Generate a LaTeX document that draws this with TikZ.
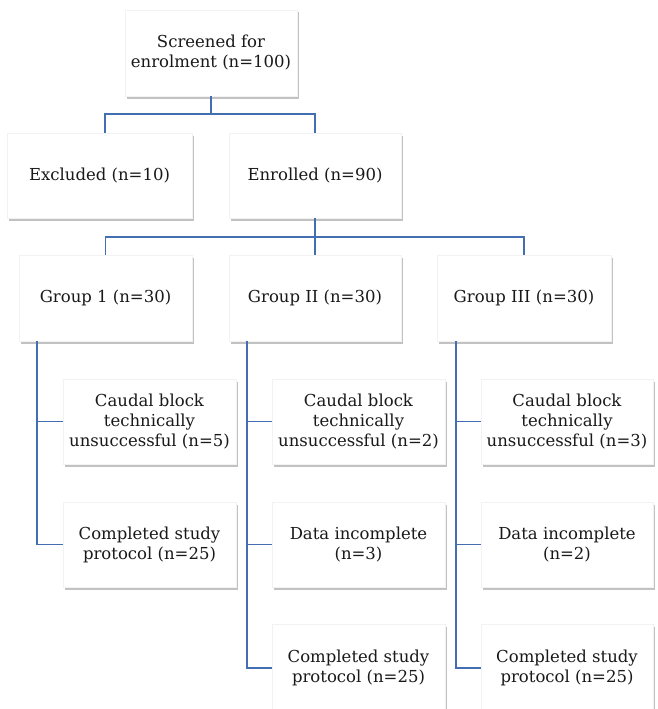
\documentclass[tikz,border=0pt]{standalone}
\usepackage{fontspec}
\setmainfont{DejaVu Serif}
\usetikzlibrary{shadows}
\definecolor{lineblue}{RGB}{68,110,178}
\definecolor{txt}{RGB}{25,25,25}
\tikzset{
  box/.style={rectangle, fill=white, draw=black!5, line width=0.3pt, align=center,
    text=txt, font=\fontsize{16.5}{20}\selectfont, inner sep=2pt,
    drop shadow={shadow xshift=1.5pt, shadow yshift=-2.5pt, opacity=0.4, fill=black!60}},
  conn/.style={draw=lineblue, line width=1.7pt}
}
\begin{document}
\begin{tikzpicture}[x=1pt,y=-1pt]
\useasboundingbox (0,0) rectangle (657,709);
% boxes
\node[box, minimum width=172, minimum height=86] (top) at (211,53) {Screened for\\enrolment (n=100)};
\node[box, minimum width=185, minimum height=85] (excl) at (99.5,175.5) {Excluded (n=10)};
\node[box, minimum width=172, minimum height=85] (enr) at (315,175.5) {Enrolled (n=90)};
\node[box, minimum width=173, minimum height=86] (g1) at (105.5,298) {Group 1 (n=30)};
\node[box, minimum width=172, minimum height=86] (g2) at (315,298) {Group II (n=30)};
\node[box, minimum width=174, minimum height=86] (g3) at (524,298) {Group III (n=30)};
\node[box, minimum width=173, minimum height=85] (c1) at (149.5,421.5) {Caudal block\\technically\\unsuccessful (n=5)};
\node[box, minimum width=173, minimum height=85] (c2) at (358.5,421.5) {Caudal block\\technically\\unsuccessful (n=2)};
\node[box, minimum width=172, minimum height=85] (c3) at (567,421.5) {Caudal block\\technically\\unsuccessful (n=3)};
\node[box, minimum width=173, minimum height=85] (p1) at (149.5,544.5) {Completed study\\protocol (n=25)};
\node[box, minimum width=173, minimum height=85] (d2) at (358.5,544.5) {Data incomplete\\(n=3)};
\node[box, minimum width=172, minimum height=85] (d3) at (567,544.5) {Data incomplete\\(n=2)};
\node[box, minimum width=173, minimum height=88] (p2) at (358.5,668) {Completed study\\protocol (n=25)};
\node[box, minimum width=172, minimum height=88] (p3) at (567,668) {Completed study\\protocol (n=25)};
% bus coordinates
\coordinate (b0) at (211,114);
\coordinate (b1) at (315,237);
\coordinate (v1) at (37,0);
\coordinate (v2) at (247,0);
\coordinate (v3) at (456,0);
% connectors
\draw[conn] (top.south) -- (b0);
\draw[conn] (excl.north -| 105,0) |- (b0) -| (enr.north);
\draw[conn] (enr.south) -- (b1);
\draw[conn] (g1.north) |- (b1) -| (g3.north);
\draw[conn] (b1) -- (g2.north);
\draw[conn] (g1.south -| v1) |- (p1.west);
\draw[conn] (c1.west -| v1) -- (c1.west);
\draw[conn] (g2.south -| v2) |- (p2.west);
\draw[conn] (c2.west -| v2) -- (c2.west);
\draw[conn] (d2.west -| v2) -- (d2.west);
\draw[conn] (g3.south -| v3) |- (p3.west);
\draw[conn] (c3.west -| v3) -- (c3.west);
\draw[conn] (d3.west -| v3) -- (d3.west);
\end{tikzpicture}
\end{document}
